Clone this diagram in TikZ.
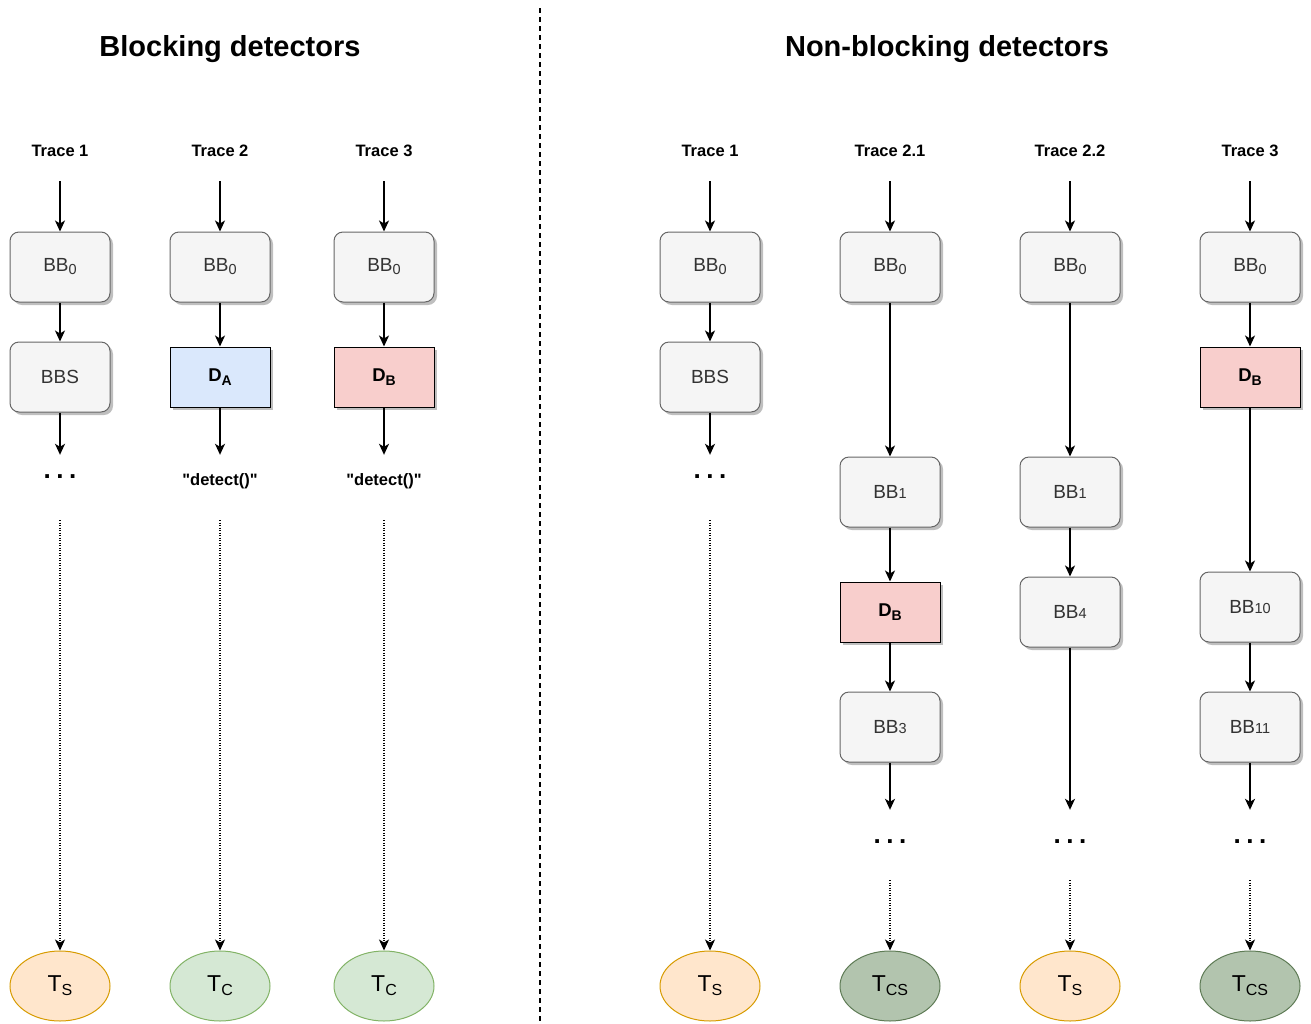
\documentclass[tikz,border=0pt]{standalone}
\usepackage{fontspec}
\setmainfont{Liberation Sans}
\newfontfamily\qfont{Liberation Sans}[Ligatures=TeXOff]
\usetikzlibrary{shapes.geometric,arrows.meta,shadows}
\definecolor{bbfill}{HTML}{F5F5F5}
\definecolor{bbline}{HTML}{666666}
\definecolor{bbtext}{HTML}{333333}
\definecolor{dafill}{HTML}{DAE8FC}
\definecolor{dbfill}{HTML}{F8CECC}
\definecolor{tsfill}{HTML}{FFE6CC}
\definecolor{tsline}{HTML}{D79B00}
\definecolor{tcfill}{HTML}{D5E8D4}
\definecolor{tcline}{HTML}{82B366}
\definecolor{tcsfill}{HTML}{B2C4AE}
\definecolor{tcsline}{HTML}{5E7B55}
\newcommand\lowsub[1]{\raisebox{-3pt}{\fontsize{14.5}{14.5}\selectfont #1}}
\newcommand\smallnum[1]{{\fontsize{14.5}{14.5}\selectfont #1}}
\newcommand\dsub[1]{\raisebox{-3.5pt}{\fontsize{14}{14}\selectfont #1}}
\newcommand\tsub[1]{\raisebox{-4pt}{\fontsize{16}{16}\selectfont #1}}
\newcommand\threedots{.\hspace{5.5pt}.\hspace{5.5pt}.}
\newcommand\qq{{\qfont\bfseries\symbol{34}}}
\begin{document}
\begin{tikzpicture}[x=1pt,y=-1pt,
  shad/.style={drop shadow={shadow xshift=3pt,shadow yshift=-3pt,opacity=0.25,fill=black}},
  bb/.style={shad,draw=bbline,fill=bbfill,rounded corners=9pt,minimum width=100pt,minimum height=70pt,inner sep=0pt,text=bbtext,font=\fontsize{19}{19}\selectfont,line width=1pt},
  det/.style={shad,draw=black,minimum width=100pt,minimum height=60pt,inner sep=0pt,font=\bfseries\fontsize{18.5}{18.5}\selectfont,line width=1pt},
  term/.style={ellipse,minimum width=100pt,minimum height=70pt,inner sep=0pt,line width=1pt,font=\fontsize{23}{23}\selectfont},
  tsn/.style={term,draw=tsline,fill=tsfill},
  tcn/.style={term,draw=tcline,fill=tcfill},
  tcsn/.style={term,draw=tcsline,fill=tcsfill},
  lab/.style={font=\bfseries\fontsize{16.5}{16.5}\selectfont,minimum height=60pt,inner sep=0pt},
  dotsa/.style={font=\bfseries\fontsize{26}{26}\selectfont,minimum height=44pt,inner sep=0pt},
  dotsb/.style={font=\bfseries\fontsize{26}{26}\selectfont,minimum height=64pt,inner sep=0pt},
  detxt/.style={font=\bfseries\fontsize{16.5}{16.5}\selectfont,minimum height=52pt,inner sep=0pt},
  title/.style={font=\bfseries\fontsize{29}{29}\selectfont},
  arr/.style={-{Stealth[length=11pt,width=10pt,inset=3pt]},line width=1.5pt},
  darr/.style={-{Stealth[length=11pt,width=10pt,inset=3pt]},line width=1.1pt,dash pattern=on 1.2pt off 1.3pt},
]
\useasboundingbox (0,0) rectangle (1311,1023);

\node[title] (tl) at (230,49) {Blocking detectors};
\node[title] (tr) at (947,49) {Non-blocking detectors};
\draw[line width=1.8pt,dash pattern=on 5pt off 4pt] (540,8) -- (540,1023);

% ---- Blocking: trace 1
\node[lab] (l1) at (60,151) {Trace 1};
\node[bb] (a0) at (60,267) {BB\lowsub{0}};
\node[bb] (as) at (60,377) {BBS};
\node[dotsa] (ad) at (60,477) {\threedots};
\node[tsn] (at) at (60,986) {T\tsub{S}};
\draw[arr] (l1) -- (a0);
\draw[arr] (a0) -- (as);
\draw[arr] (as) -- (ad);
\draw[darr,shorten <=21pt] (ad) -- (at);

% ---- Blocking: trace 2
\node[lab] (l2) at (220,151) {Trace 2};
\node[bb] (b0) at (220,267) {BB\lowsub{0}};
\node[det,fill=dafill] (bd) at (220,377) {D\dsub{A}};
\node[detxt] (bx) at (220,481) {\qq detect()\qq};
\node[tcn] (bt) at (220,986) {T\tsub{C}};
\draw[arr] (l2) -- (b0);
\draw[arr] (b0) -- (bd);
\draw[arr] (bd) -- (bx);
\draw[darr,shorten <=13pt] (bx) -- (bt);

% ---- Blocking: trace 3
\node[lab] (l3) at (384,151) {Trace 3};
\node[bb] (c0) at (384,267) {BB\lowsub{0}};
\node[det,fill=dbfill] (cd) at (384,377) {D\dsub{B}};
\node[detxt] (cx) at (384,481) {\qq detect()\qq};
\node[tcn] (ct) at (384,986) {T\tsub{C}};
\draw[arr] (l3) -- (c0);
\draw[arr] (c0) -- (cd);
\draw[arr] (cd) -- (cx);
\draw[darr,shorten <=13pt] (cx) -- (ct);

% ---- Non-blocking: trace 1
\node[lab] (m1) at (710,151) {Trace 1};
\node[bb] (d0) at (710,267) {BB\lowsub{0}};
\node[bb] (ds) at (710,377) {BBS};
\node[dotsa] (dd) at (710,477) {\threedots};
\node[tsn] (dt) at (710,986) {T\tsub{S}};
\draw[arr] (m1) -- (d0);
\draw[arr] (d0) -- (ds);
\draw[arr] (ds) -- (dd);
\draw[darr,shorten <=21pt] (dd) -- (dt);

% ---- Non-blocking: trace 2.1
\node[lab] (m2) at (890,151) {Trace 2.1};
\node[bb] (e0) at (890,267) {BB\lowsub{0}};
\node[bb] (e1) at (890,492) {BB\smallnum{1}};
\node[det,fill=dbfill] (ed) at (890,612) {D\dsub{B}};
\node[bb] (e3) at (890,727) {BB\smallnum{3}};
\node[dotsb] (ex) at (890,842) {\threedots};
\node[tcsn] (et) at (890,986) {T\tsub{CS}};
\draw[arr] (m2) -- (e0);
\draw[arr] (e0) -- (e1);
\draw[arr] (e1) -- (ed);
\draw[arr] (ed) -- (e3);
\draw[arr] (e3) -- (ex);
\draw[darr,shorten <=6pt] (ex) -- (et);

% ---- Non-blocking: trace 2.2
\node[lab] (m3) at (1070,151) {Trace 2.2};
\node[bb] (f0) at (1070,267) {BB\lowsub{0}};
\node[bb] (f1) at (1070,492) {BB\smallnum{1}};
\node[bb] (f4) at (1070,612) {BB\smallnum{4}};
\node[dotsb] (fx) at (1070,842) {\threedots};
\node[tsn] (ft) at (1070,986) {T\tsub{S}};
\draw[arr] (m3) -- (f0);
\draw[arr] (f0) -- (f1);
\draw[arr] (f1) -- (f4);
\draw[arr] (f4) -- (fx);
\draw[darr,shorten <=6pt] (fx) -- (ft);

% ---- Non-blocking: trace 3
\node[lab] (m4) at (1250,151) {Trace 3};
\node[bb] (g0) at (1250,267) {BB\lowsub{0}};
\node[det,fill=dbfill] (gd) at (1250,377) {D\dsub{B}};
\node[bb] (g10) at (1250,607) {BB\smallnum{10}};
\node[bb] (g11) at (1250,727) {BB\smallnum{11}};
\node[dotsb] (gx) at (1250,842) {\threedots};
\node[tcsn] (gt) at (1250,986) {T\tsub{CS}};
\draw[arr] (m4) -- (g0);
\draw[arr] (g0) -- (gd);
\draw[arr] (gd) -- (g10);
\draw[arr] (g10) -- (g11);
\draw[arr] (g11) -- (gx);
\draw[darr,shorten <=6pt] (gx) -- (gt);
\end{tikzpicture}
\end{document}
